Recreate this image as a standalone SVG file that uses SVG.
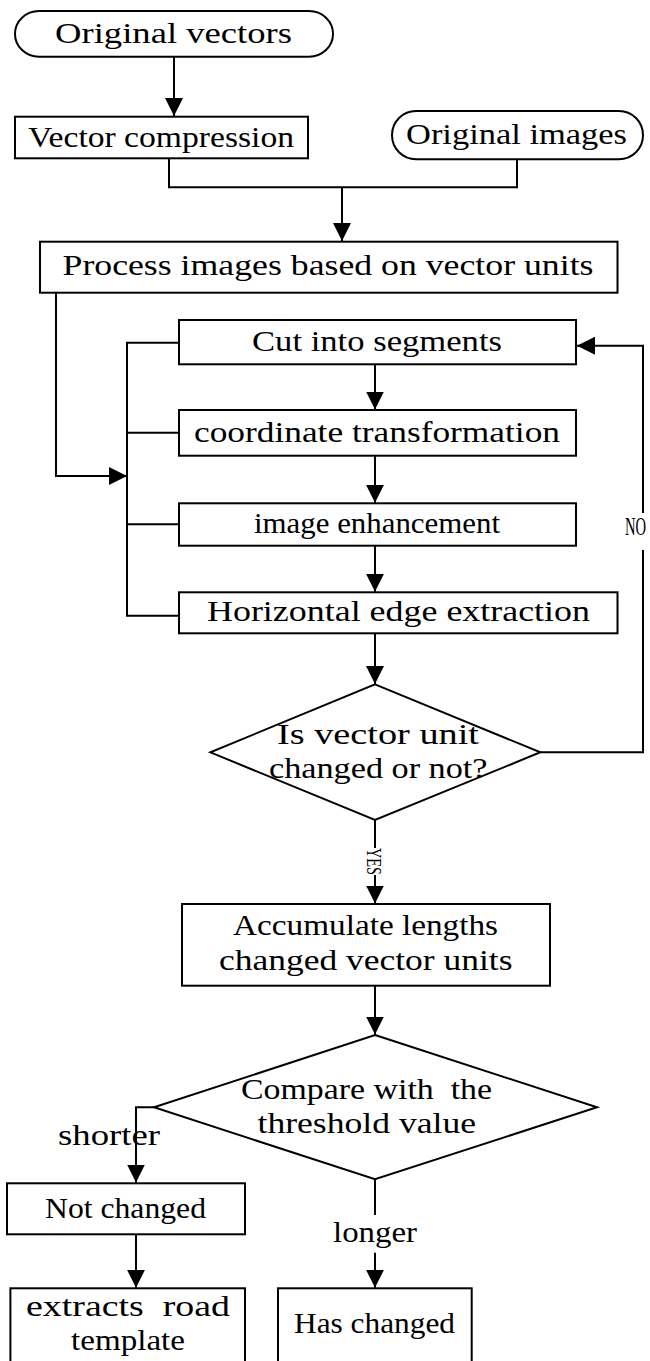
<svg xmlns="http://www.w3.org/2000/svg" width="650" height="1361" viewBox="0 0 650 1361">
<style>
.n{fill:#fff;stroke:#000;stroke-width:2}
.t{font-family:"Liberation Serif",serif;font-size:30px;fill:#000}
.s{font-family:"Liberation Serif",serif;fill:#000}
.c{fill:none;stroke:#000;stroke-width:2}
</style>
<defs>
<marker id="ah" markerUnits="userSpaceOnUse" markerWidth="18" markerHeight="18" refX="18" refY="9" orient="auto" viewBox="0 0 18 18">
<path d="M0,0 L18,9 L0,18 z" fill="#000"/>
</marker>
</defs>
<rect width="650" height="1361" fill="#fff"/>
<g id="connectors">
<path class="c" d="M174,57 V116" marker-end="url(#ah)"/>
<path class="c" d="M169,158 V187.3 H517 V159.3"/>
<path class="c" d="M342,187.3 V241" marker-end="url(#ah)"/>
<path class="c" d="M56,292.7 V476 H127" marker-end="url(#ah)"/>
<path class="c" d="M179,342.7 H127 V615.7 H179 M127,432.7 H179 M127,524.3 H179"/>
<path class="c" d="M375,364.3 V409.5" marker-end="url(#ah)"/>
<path class="c" d="M375,455.7 V502.8" marker-end="url(#ah)"/>
<path class="c" d="M375,545.7 V591.8" marker-end="url(#ah)"/>
<path class="c" d="M375,633.3 V684" marker-end="url(#ah)"/>
<path class="c" d="M540.4,752.3 H643 V550"/>
<path class="c" d="M643,513 V345.7 H577" marker-end="url(#ah)"/>
<path class="c" d="M375,820 V848"/>
<path class="c" d="M375,875 V903.5" marker-end="url(#ah)"/>
<path class="c" d="M375,985.7 V1034.5" marker-end="url(#ah)"/>
<path class="c" d="M154,1107.3 H136 V1182.5" marker-end="url(#ah)"/>
<path class="c" d="M136,1234.3 V1287.8" marker-end="url(#ah)"/>
<path class="c" d="M375,1179.3 V1215"/>
<path class="c" d="M375,1252.7 V1287.8" marker-end="url(#ah)"/>
<text class="s" style="font-size:17px" transform="translate(625,535) scale(0.86,1.5)">NO</text>
<text class="s" style="font-size:21px" transform="translate(367,861.5) rotate(90)" text-anchor="middle" textLength="27" lengthAdjust="spacingAndGlyphs">YES</text>
<text class="t" x="58" y="1145" textLength="102" lengthAdjust="spacingAndGlyphs">shorter</text>
<text class="t" x="333" y="1241.7" textLength="84" lengthAdjust="spacingAndGlyphs">longer</text>
</g>
<g id="original-vectors">
<rect class="n" x="15" y="11" width="318" height="45.7" rx="24" ry="22.8"/>
<text class="t" x="55" y="42.7" textLength="237" lengthAdjust="spacingAndGlyphs">Original vectors</text>
</g>
<g id="vector-compression">
<rect class="n" x="15" y="116.7" width="293" height="41.6"/>
<text class="t" x="28" y="146.5" textLength="266" lengthAdjust="spacingAndGlyphs">Vector compression</text>
</g>
<g id="original-images">
<rect class="n" x="392" y="111" width="251" height="48.3" rx="24" ry="24"/>
<text class="t" x="406" y="144" textLength="221" lengthAdjust="spacingAndGlyphs">Original images</text>
</g>
<g id="process-images">
<rect class="n" x="40" y="241.7" width="577.5" height="51"/>
<text class="t" x="62.5" y="275" textLength="531" lengthAdjust="spacingAndGlyphs">Process images based on vector units</text>
</g>
<g id="cut-into-segments">
<rect class="n" x="179" y="320" width="397" height="44.3"/>
<text class="t" x="252" y="350.5" textLength="250" lengthAdjust="spacingAndGlyphs">Cut into segments</text>
</g>
<g id="coordinate-transformation">
<rect class="n" x="179" y="410" width="397" height="45.7"/>
<text class="t" x="194" y="441.7" textLength="366" lengthAdjust="spacingAndGlyphs">coordinate transformation</text>
</g>
<g id="image-enhancement">
<rect class="n" x="179" y="503.3" width="397" height="42.4"/>
<text class="t" x="254" y="533" textLength="246" lengthAdjust="spacingAndGlyphs">image enhancement</text>
</g>
<g id="horizontal-edge-extraction">
<rect class="n" x="179" y="592.3" width="438.5" height="41"/>
<text class="t" x="207" y="620.7" textLength="383" lengthAdjust="spacingAndGlyphs">Horizontal edge extraction</text>
</g>
<g id="is-vector-unit-changed">
<polygon class="n" points="375,684.3 540.4,752.3 375,820 210.4,752.3"/>
<text class="t" x="277" y="744" textLength="202" lengthAdjust="spacingAndGlyphs">Is vector unit</text>
<text class="t" x="269" y="778.3" textLength="218.5" lengthAdjust="spacingAndGlyphs">changed or not?</text>
</g>
<g id="accumulate-lengths">
<rect class="n" x="182" y="904" width="368" height="81.7"/>
<text class="t" x="233" y="935" textLength="265" lengthAdjust="spacingAndGlyphs">Accumulate lengths</text>
<text class="t" x="219" y="970" textLength="293.5" lengthAdjust="spacingAndGlyphs">changed vector units</text>
</g>
<g id="compare-threshold">
<polygon class="n" points="375,1035 597,1107.3 375,1179.3 154,1107.3"/>
<text class="t" x="241" y="1099" textLength="251" lengthAdjust="spacingAndGlyphs" xml:space="preserve">Compare with  the</text>
<text class="t" x="257.5" y="1133" textLength="218.5" lengthAdjust="spacingAndGlyphs">threshold value</text>
</g>
<g id="not-changed">
<rect class="n" x="7" y="1183.3" width="238" height="51"/>
<text class="t" x="45" y="1218.3" textLength="161" lengthAdjust="spacingAndGlyphs">Not changed</text>
</g>
<g id="extracts-road-template">
<rect class="n" x="10.4" y="1288.3" width="234.6" height="90"/>
<text class="t" x="26" y="1315.7" textLength="204" lengthAdjust="spacingAndGlyphs" xml:space="preserve">extracts  road</text>
<text class="t" x="71" y="1350" textLength="114" lengthAdjust="spacingAndGlyphs">template</text>
</g>
<g id="has-changed">
<rect class="n" x="278" y="1288.3" width="193.7" height="90"/>
<text class="t" x="294" y="1333.3" textLength="161" lengthAdjust="spacingAndGlyphs">Has changed</text>
</g>
</svg>
